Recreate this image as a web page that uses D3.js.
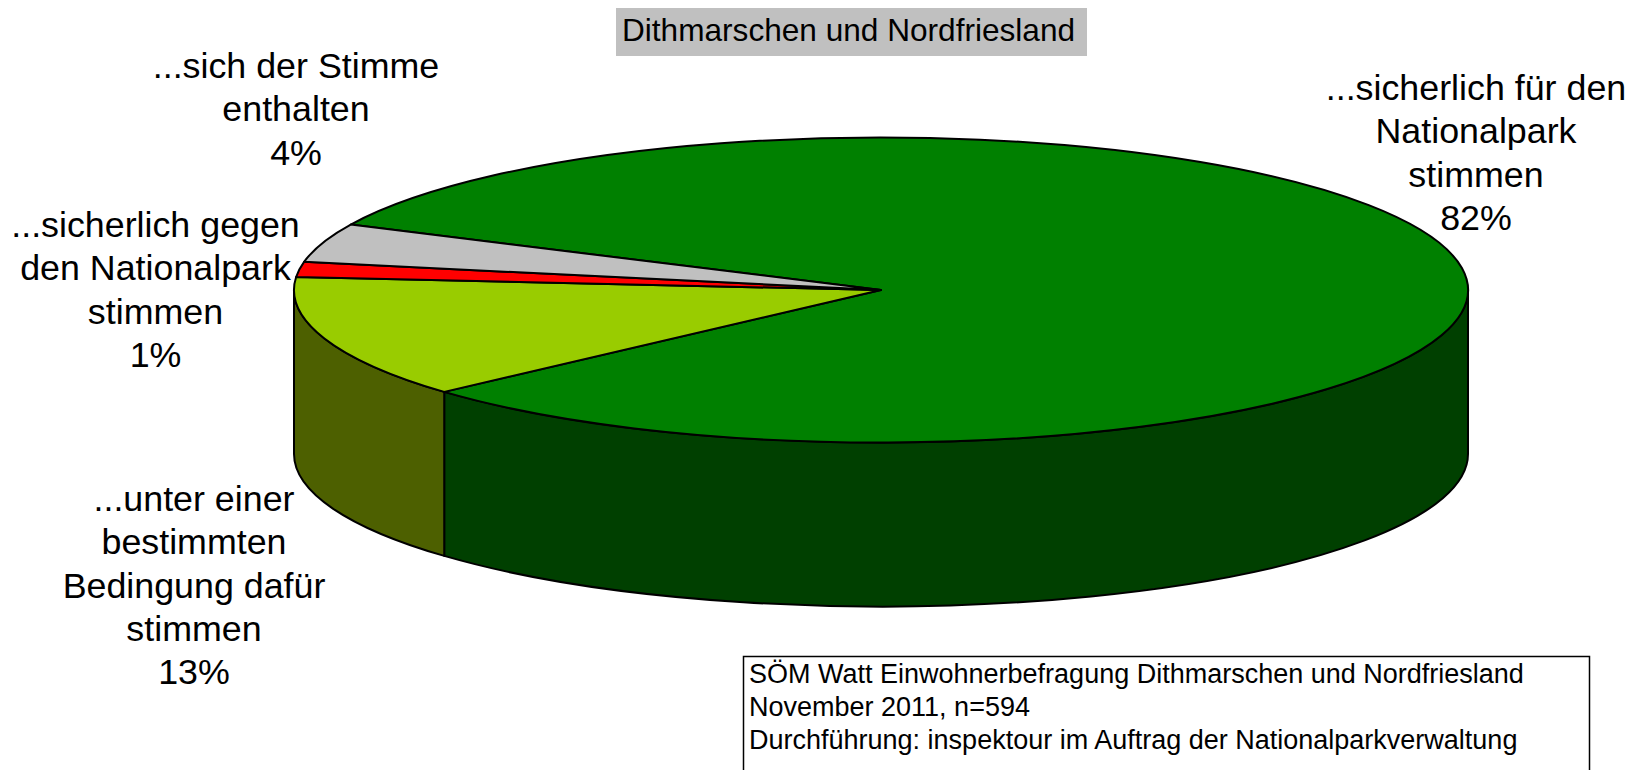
<!DOCTYPE html>
<html><head><meta charset="utf-8">
<script src="https://cdn.jsdelivr.net/npm/d3@7"></script>
<style>html,body{margin:0;padding:0;background:#fff;overflow:hidden}svg{display:block}text{font-family:"Liberation Sans",Arial,sans-serif;fill:#000}</style>
</head><body><svg id="c" width="1634" height="770"></svg>
<script>
const categories=["...sicherlich für den Nationalpark stimmen","...unter einer bestimmten Bedingung dafür stimmen","...sicherlich gegen den Nationalpark stimmen","...sich der Stimme enthalten"];
const sliceShares=[81.3,13.0,1.6,4.1];
const percentLabels=["82%","13%","1%","4%"];
const topColors=["#008000","#99cc00","#ff0000","#c0c0c0"];
const wallColors=["#004000","#4d6000","#800000","#606060"];
const labelLines=[["...sicherlich für den","Nationalpark","stimmen"],["...unter einer","bestimmten","Bedingung dafür","stimmen"],["...sicherlich gegen","den Nationalpark","stimmen"],["...sich der Stimme","enthalten"]];
const labelAnchors=[[1476,100],[194,511],[155.5,237],[296,78]];
const titleText="Dithmarschen und Nordfriesland";
const noteLines=["SÖM Watt Einwohnerbefragung Dithmarschen und Nordfriesland","November 2011, n=594","Durchführung: inspektour im Auftrag der Nationalparkverwaltung"];

const svg=d3.select("#c");
const cx=881,cy=290,rx=587,ry=152.5,depth=164;
const startDeg=295.4;
const pie=d3.pie().sort(null).startAngle(startDeg*Math.PI/180).endAngle((startDeg+360)*Math.PI/180);
const arcs=pie(sliceShares);
const px=a=>cx+rx*Math.sin(a), py=a=>cy-ry*Math.cos(a);
const PI=Math.PI;

function wall(a0,a1){
  const out=[];
  for(const k of [-2,0,2]){
    const s=Math.max(a0,PI/2+k*PI), e=Math.min(a1,3*PI/2+k*PI);
    if(s<e) out.push([s,e]);
  }
  return out;
}
const g=svg.append("g");
arcs.forEach((d,i)=>{
  wall(d.startAngle,d.endAngle).forEach(([s,e])=>{
    const large=(e-s)>PI?1:0;
    const p=`M${px(s)},${py(s)}A${rx},${ry} 0 ${large} 1 ${px(e)},${py(e)}L${px(e)},${py(e)+depth}A${rx},${ry} 0 ${large} 0 ${px(s)},${py(s)+depth}Z`;
    g.append("path").attr("d",p).attr("fill",wallColors[i]).attr("stroke","#000").attr("stroke-width",2).attr("stroke-linejoin","round");
  });
});
const arcGen=d3.arc().innerRadius(0).outerRadius(rx);
g.append("g").attr("transform",`translate(${cx},${cy}) scale(1,${ry/rx})`)
 .selectAll("path").data(arcs).join("path").attr("d",arcGen)
 .attr("fill",(d,i)=>topColors[i]).attr("stroke","#000").attr("stroke-width",2)
 .attr("stroke-linejoin","round").attr("vector-effect","non-scaling-stroke");

const lh=43.3;
labelLines.forEach((lines,i)=>{
  const t=svg.append("text").attr("text-anchor","middle").attr("font-size",35.8);
  lines.concat(percentLabels[i]).forEach((s,j)=>{
    t.append("tspan").attr("x",labelAnchors[i][0]).attr("y",labelAnchors[i][1]+j*lh).text(s);
  });
});

svg.append("rect").attr("x",616).attr("y",8).attr("width",471).attr("height",48).attr("fill","#c0c0c0");
svg.append("text").attr("x",622).attr("y",41).attr("font-size",31.6).text(titleText);

svg.append("rect").attr("x",743.5).attr("y",656.5).attr("width",846).attr("height",130).attr("fill","#fff").attr("stroke","#000").attr("stroke-width",1.5);
noteLines.forEach((s,i)=>svg.append("text").attr("x",749).attr("y",683+i*33).attr("font-size",27).text(s));
</script></body></html>
